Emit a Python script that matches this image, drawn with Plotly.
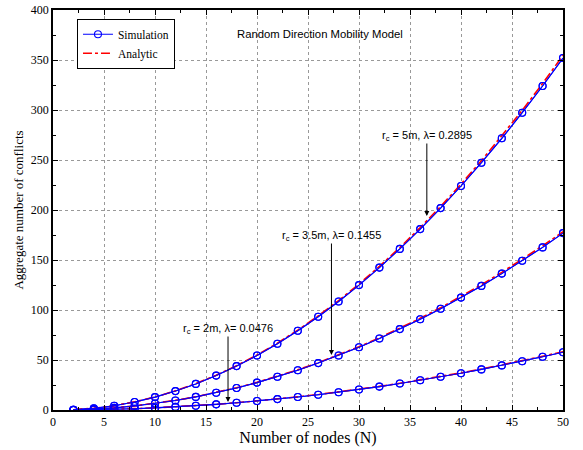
import plotly.graph_objects as go

N = [2, 4, 6, 8, 10, 12, 14, 16, 18, 20, 22, 24, 26, 28, 30, 32, 34, 36, 38, 40, 42, 44, 46, 48, 50]

sim_5m = [0.3, 1.7, 4.3, 8.0, 12.9, 18.9, 26.1, 34.4, 43.9, 54.5, 66.3, 79.2, 93.3, 108.5, 124.9,
          142.4, 161.1, 180.9, 201.9, 224.0, 247.3, 271.7, 297.3, 324.0, 352.0]
ana_5m = [0.29, 1.74, 4.34, 8.11, 13.03, 19.11, 26.34, 34.74, 44.29, 55.01, 66.87, 79.90, 94.09, 109.43,
          125.93, 143.59, 162.41, 182.39, 203.52, 225.81, 249.26, 273.87, 299.63, 326.56, 354.64]
sim_35m = [0.15, 0.86, 2.16, 4.03, 6.5, 9.5, 13.1, 17.3, 22.0, 27.4, 33.3, 39.8, 46.9, 54.5, 62.7,
           71.5, 80.9, 90.8, 101.3, 112.4, 124.1, 136.4, 149.2, 162.6, 176.9]
ana_35m = [0.15, 0.87, 2.18, 4.07, 6.55, 9.60, 13.24, 17.46, 22.26, 27.65, 33.61, 40.16, 47.29, 55.00,
           63.29, 72.17, 81.63, 91.67, 102.29, 113.49, 125.28, 137.64, 150.59, 164.12, 178.24]
sim_2m = [0.05, 0.28, 0.70, 1.32, 2.12, 3.11, 4.29, 5.66, 7.22, 8.97, 10.9, 13.0, 15.3, 17.8, 20.5,
          23.4, 26.5, 29.7, 33.2, 36.8, 40.6, 44.6, 48.8, 53.2, 57.8]
ana_2m = [0.05, 0.29, 0.71, 1.33, 2.14, 3.14, 4.33, 5.71, 7.28, 9.04, 11.00, 13.14, 15.47, 17.99,
          20.71, 23.61, 26.70, 29.99, 33.46, 37.13, 40.98, 45.03, 49.27, 53.69, 58.31]

labels = ["r<sub>c</sub> = 5m, λ= 0.2895", "r<sub>c</sub> = 3.5m, λ= 0.1455", "r<sub>c</sub> = 2m, λ= 0.0476"]
label_x = [36.65, 27.3, 17.16]
label_y = [274, 174, 81]
arrow_x = [36.65, 27.3, 17.16]
arrow_head = [194, 55, 8]

fig = go.Figure()
sims = [sim_5m, sim_35m, sim_2m]
anas = [ana_5m, ana_35m, ana_2m]
mk = dict(symbol="circle-open", size=7, color="#0000ff", line=dict(width=1.1))
for i in range(3):
    fig.add_trace(go.Scatter(x=N, y=sims[i], mode="lines+markers", name="Simulation",
                             line=dict(color="#0000ff", width=1.1), marker=mk,
                             showlegend=(i == 0), legendrank=1))
for i in range(3):
    fig.add_trace(go.Scatter(x=N, y=anas[i], mode="lines", name="Analytic",
                             line=dict(color="#ff0000", width=1.6, dash="dashdot"),
                             showlegend=(i == 0), legendrank=2))
for i in range(3):
    fig.add_trace(go.Scatter(x=N, y=sims[i], mode="lines+markers", name="Simulation",
                             line=dict(color="#0000ff", width=1.1), marker=mk,
                             showlegend=False, hoverinfo="skip"))

for i in range(3):
    fig.add_annotation(x=arrow_x[i], y=arrow_head[i], ax=label_x[i], ay=label_y[i],
                       xref="x", yref="y", axref="x", ayref="y", text=labels[i],
                       showarrow=True, arrowhead=2, arrowsize=1, arrowwidth=1, arrowcolor="black",
                       borderpad=0,
                       font=dict(family="Liberation Sans, Arial", size=11, color="black"))

fig.add_annotation(x=0.523, y=376, xref="paper", yref="y", text="Random Direction Mobility Model",
                   showarrow=False, font=dict(family="Liberation Sans, Arial", size=11.3, color="black"))

axis_common = dict(showline=True, linecolor="black", linewidth=1.5, mirror="allticks",
                   ticks="inside", ticklen=5, tickcolor="black", automargin=False,
                   showgrid=True, gridcolor="#999999", griddash="dot", gridwidth=1,
                   zeroline=False, tickfont=dict(family="Liberation Serif, Times New Roman", size=12, color="black"))

fig.update_xaxes(range=[0, 50], dtick=5, tick0=0,
                 minor=dict(ticks="inside", dtick=2.5, ticklen=3, tickcolor="black", showgrid=False),
                 title=dict(text="Number of nodes (N)", standoff=2,
                            font=dict(family="Liberation Serif, Times New Roman", size=16, color="black")),
                 **axis_common)
fig.update_yaxes(range=[0, 400], dtick=50, tick0=0,
                 minor=dict(ticks="inside", dtick=25, ticklen=3, tickcolor="black", showgrid=False),
                 title=dict(text="Aggregate number of conflicts", standoff=4,
                            font=dict(family="Liberation Serif, Times New Roman", size=13, color="black")),
                 **axis_common)

fig.update_layout(width=583, height=450, margin=dict(l=53, r=20, t=10, b=40),
                  plot_bgcolor="white", paper_bgcolor="white",
                  legend=dict(x=0.047, y=0.978, xanchor="left", yanchor="top",
                              bordercolor="black", borderwidth=1, bgcolor="white",
                              font=dict(family="Liberation Serif, Times New Roman", size=11.5, color="black"),
                              tracegroupgap=0, itemwidth=30),
                  showlegend=True)

fig.write_html("out.html", config={"displayModeBar": False},
               post_script="document.body.style.margin='0';document.body.style.overflow='hidden';")
